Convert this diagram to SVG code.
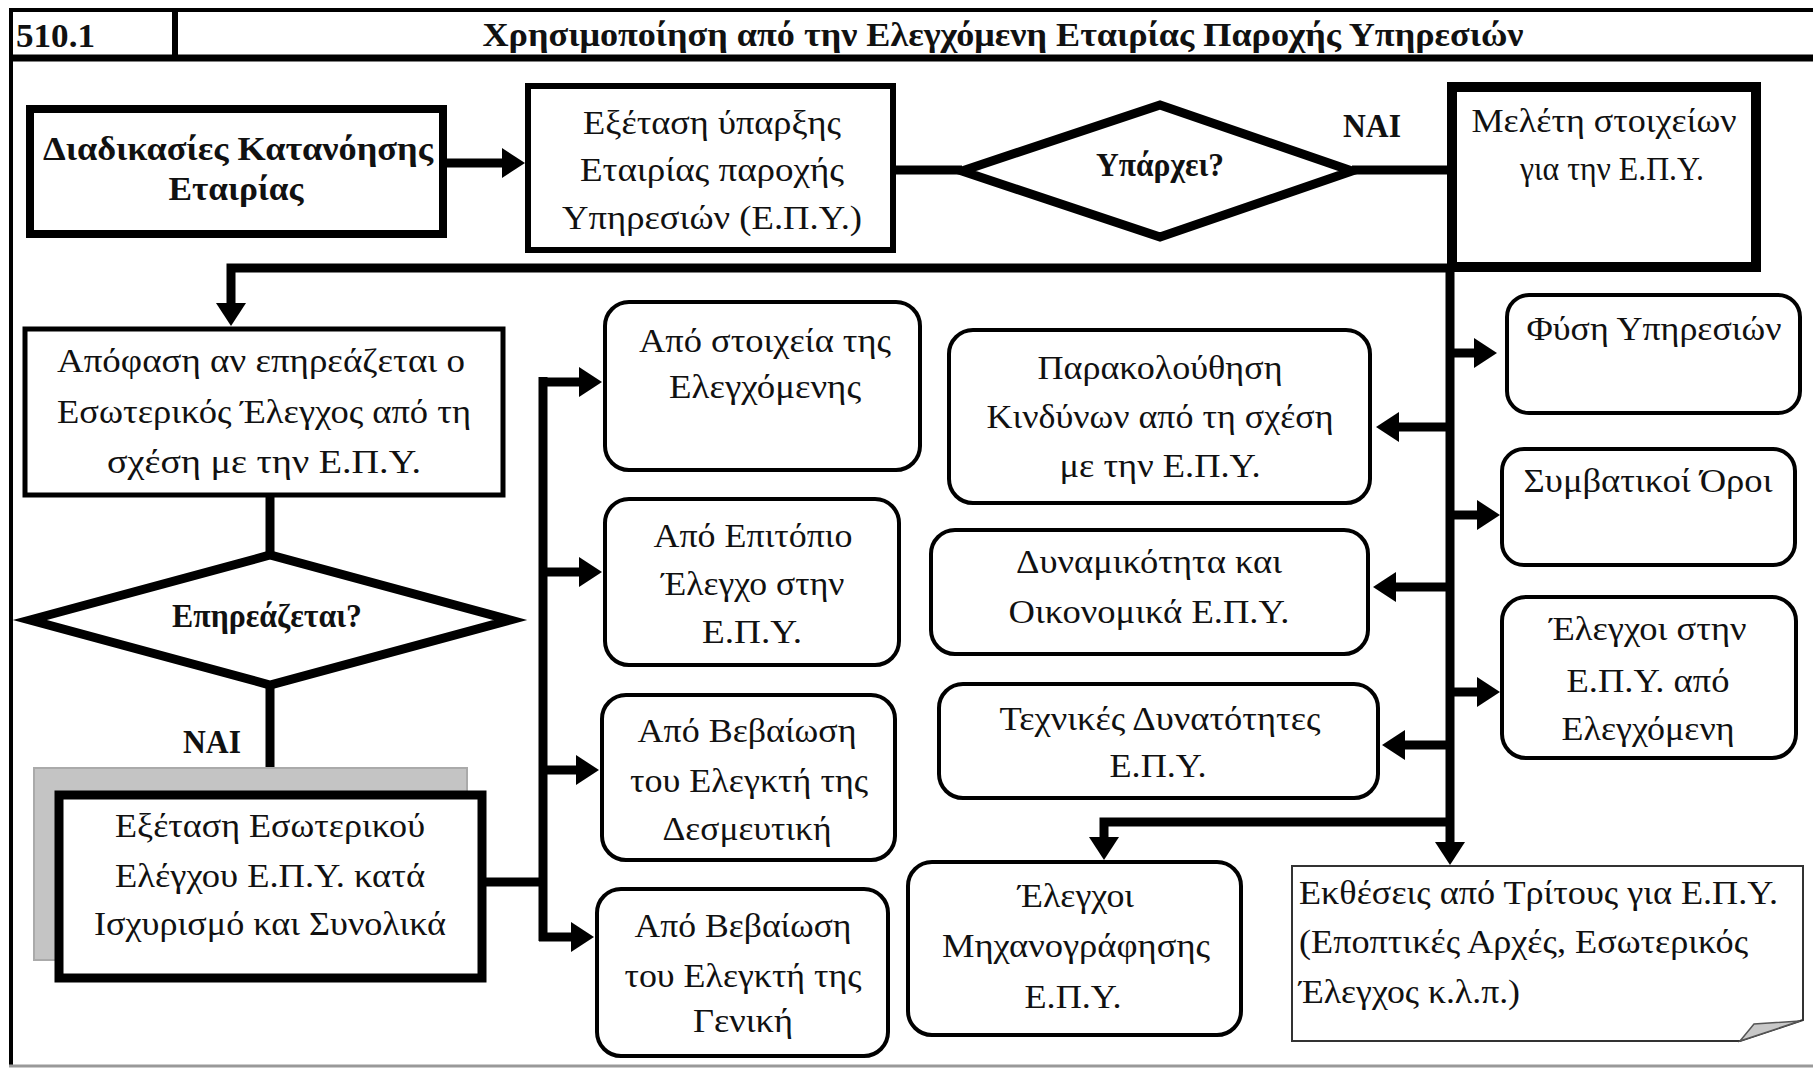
<svg xmlns="http://www.w3.org/2000/svg" width="1813" height="1069" viewBox="0 0 1813 1069">
<defs>
<marker id="ah" markerUnits="userSpaceOnUse" markerWidth="24" markerHeight="32" refX="1" refY="15" orient="auto"><path d="M0,0 L23,15 L0,30 z" fill="#000"/></marker>
</defs>
<style>
.t{font-family:"Liberation Serif","Times New Roman",serif;font-size:33px;fill:#111;text-anchor:middle}
.b{font-weight:bold}
.l{text-anchor:start}
.c{fill:none;stroke:#000;stroke-width:9}
.r{fill:#fff;stroke:#000;stroke-width:4}
.fr{fill:none;stroke:#000}
</style>
<rect x="0" y="0" width="1813" height="1069" fill="#fff"/>
<g id="frame">
<line class="fr" x1="9" y1="10" x2="1813" y2="10" stroke-width="4"/>
<line class="fr" x1="9" y1="58" x2="1813" y2="58" stroke-width="7"/>
<line class="fr" x1="175" y1="10" x2="175" y2="58" stroke-width="6"/>
<line class="fr" x1="11" y1="8" x2="11" y2="1066" stroke-width="4"/>
<line x1="9" y1="1066" x2="1813" y2="1066" stroke="#999" stroke-width="3"/>
<text class="t b l" x="16" y="47" font-size="38" textLength="79" lengthAdjust="spacingAndGlyphs">510.1</text>
<text class="t b" x="1003" y="46" font-size="33" textLength="1041" lengthAdjust="spacingAndGlyphs">Χρησιμοποίηση από την Ελεγχόμενη Εταιρίας Παροχής Υπηρεσιών</text>
</g>
<g id="connectors">
<path class="c" d="M447,163 H503" marker-end="url(#ah)"/>
<path class="c" d="M896,170 H962"/>
<path class="c" d="M1352,170 H1447"/>
<path class="c" d="M1451,268 H231 V304" marker-end="url(#ah)"/>
<path class="c" d="M1450,268 V843" marker-end="url(#ah)"/>
<path class="c" d="M1450,353 H1475" marker-end="url(#ah)"/>
<path class="c" d="M1450,515 H1478" marker-end="url(#ah)"/>
<path class="c" d="M1450,692 H1478" marker-end="url(#ah)"/>
<path class="c" d="M1450,427 H1398" marker-end="url(#ah)"/>
<path class="c" d="M1450,587 H1395" marker-end="url(#ah)"/>
<path class="c" d="M1450,745 H1404" marker-end="url(#ah)"/>
<path class="c" d="M1450,822 H1104 V838" marker-end="url(#ah)"/>
<path class="c" d="M270,497 V556"/>
<path class="c" d="M270,684 V792"/>
<path class="c" d="M486,882 H543"/>
<path class="c" d="M543,377 V941"/>
<path class="c" d="M539,382 H580" marker-end="url(#ah)"/>
<path class="c" d="M539,572 H580" marker-end="url(#ah)"/>
<path class="c" d="M539,770 H577" marker-end="url(#ah)"/>
<path class="c" d="M539,937 H572" marker-end="url(#ah)"/>
<text class="t b" x="1372" y="137" font-size="31" textLength="58" lengthAdjust="spacingAndGlyphs">ΝΑΙ</text>
<text class="t b" x="212" y="753" font-size="31" textLength="58" lengthAdjust="spacingAndGlyphs">ΝΑΙ</text>
</g>
<g id="n-diadikasies">
<rect x="30" y="109" width="413" height="125" fill="#fff" stroke="#000" stroke-width="8"/>
<text class="t b" x="238" y="160" font-size="35" textLength="390" lengthAdjust="spacingAndGlyphs">Διαδικασίες Κατανόησης</text>
<text class="t b" x="236" y="200" font-size="35" textLength="135" lengthAdjust="spacingAndGlyphs">Εταιρίας</text>
</g>
<g id="n-exetasi-yparxis">
<rect x="528" y="86" width="365" height="164" fill="#fff" stroke="#000" stroke-width="6"/>
<text class="t" x="712" y="134" textLength="258" lengthAdjust="spacingAndGlyphs">Εξέταση ύπαρξης</text>
<text class="t" x="712" y="181" textLength="264" lengthAdjust="spacingAndGlyphs">Εταιρίας παροχής</text>
<text class="t" x="712" y="229" textLength="300" lengthAdjust="spacingAndGlyphs">Υπηρεσιών (Ε.Π.Υ.)</text>
</g>
<g id="n-yparxei">
<polygon points="962,171 1160,105 1352,171 1160,237" fill="#fff" stroke="#000" stroke-width="9"/>
<text class="t b" x="1160" y="176" font-size="31" textLength="128" lengthAdjust="spacingAndGlyphs">Υπάρχει?</text>
</g>
<g id="n-meleti">
<rect x="1452" y="87" width="304" height="180" fill="#fff" stroke="#000" stroke-width="10"/>
<text class="t" x="1604" y="132" textLength="265" lengthAdjust="spacingAndGlyphs">Μελέτη στοιχείων</text>
<text class="t" x="1612" y="180" textLength="184" lengthAdjust="spacingAndGlyphs">για την Ε.Π.Υ.</text>
</g>
<g id="n-apofasi">
<rect x="25" y="329" width="478" height="166" fill="#fff" stroke="#000" stroke-width="5"/>
<text class="t" x="261" y="372" textLength="408" lengthAdjust="spacingAndGlyphs">Απόφαση αν επηρεάζεται ο</text>
<text class="t" x="264" y="423" textLength="414" lengthAdjust="spacingAndGlyphs">Εσωτερικός Έλεγχος από τη</text>
<text class="t" x="264" y="473" textLength="314" lengthAdjust="spacingAndGlyphs">σχέση με την Ε.Π.Υ.</text>
</g>
<g id="n-epireazetai">
<polygon points="30,620 270,555 510,620 270,685" fill="#fff" stroke="#000" stroke-width="9"/>
<text class="t b" x="267" y="627" font-size="31" textLength="190" lengthAdjust="spacingAndGlyphs">Επηρεάζεται?</text>
</g>
<g id="n-exetasi-esoterikou">
<rect x="34" y="768" width="433" height="192" fill="#c4c4c4" stroke="#aaa" stroke-width="2"/>
<rect x="59" y="795" width="423" height="183" fill="#fff" stroke="#000" stroke-width="9"/>
<text class="t" x="270" y="837" textLength="310" lengthAdjust="spacingAndGlyphs">Εξέταση Εσωτερικού</text>
<text class="t" x="270" y="887" textLength="310" lengthAdjust="spacingAndGlyphs">Ελέγχου Ε.Π.Υ. κατά</text>
<text class="t" x="270" y="935" textLength="352" lengthAdjust="spacingAndGlyphs">Ισχυρισμό και Συνολικά</text>
</g>
<g id="n-apo-stoixeia">
<rect class="r" x="605" y="302" width="315" height="168" rx="24"/>
<text class="t" x="765" y="352" textLength="252" lengthAdjust="spacingAndGlyphs">Από στοιχεία της</text>
<text class="t" x="765" y="398" textLength="192" lengthAdjust="spacingAndGlyphs">Ελεγχόμενης</text>
</g>
<g id="n-apo-epitopio">
<rect class="r" x="605" y="499" width="294" height="166" rx="24"/>
<text class="t" x="753" y="547" textLength="199" lengthAdjust="spacingAndGlyphs">Από Επιτόπιο</text>
<text class="t" x="753" y="595" textLength="183" lengthAdjust="spacingAndGlyphs">Έλεγχο στην</text>
<text class="t" x="752" y="643" textLength="100" lengthAdjust="spacingAndGlyphs">Ε.Π.Υ.</text>
</g>
<g id="n-desmeftiki">
<rect class="r" x="602" y="695" width="293" height="165" rx="24"/>
<text class="t" x="747" y="742" textLength="219" lengthAdjust="spacingAndGlyphs">Από Βεβαίωση</text>
<text class="t" x="749" y="792" textLength="238" lengthAdjust="spacingAndGlyphs">του Ελεγκτή της</text>
<text class="t" x="747" y="840" textLength="169" lengthAdjust="spacingAndGlyphs">Δεσμευτική</text>
</g>
<g id="n-geniki">
<rect class="r" x="597" y="889" width="291" height="167" rx="24"/>
<text class="t" x="743" y="937" textLength="217" lengthAdjust="spacingAndGlyphs">Από Βεβαίωση</text>
<text class="t" x="743" y="987" textLength="237" lengthAdjust="spacingAndGlyphs">του Ελεγκτή της</text>
<text class="t" x="743" y="1032" textLength="100" lengthAdjust="spacingAndGlyphs">Γενική</text>
</g>
<g id="n-parakolouthisi">
<rect class="r" x="949" y="330" width="421" height="173" rx="24"/>
<text class="t" x="1160" y="379" textLength="245" lengthAdjust="spacingAndGlyphs">Παρακολούθηση</text>
<text class="t" x="1160" y="428" textLength="347" lengthAdjust="spacingAndGlyphs">Κινδύνων από τη σχέση</text>
<text class="t" x="1160" y="477" textLength="201" lengthAdjust="spacingAndGlyphs">με την Ε.Π.Υ.</text>
</g>
<g id="n-dynamikotita">
<rect class="r" x="931" y="530" width="437" height="124" rx="24"/>
<text class="t" x="1149" y="573" textLength="266" lengthAdjust="spacingAndGlyphs">Δυναμικότητα και</text>
<text class="t" x="1149" y="623" textLength="281" lengthAdjust="spacingAndGlyphs">Οικονομικά Ε.Π.Υ.</text>
</g>
<g id="n-technikes">
<rect class="r" x="939" y="684" width="439" height="114" rx="24"/>
<text class="t" x="1160" y="730" textLength="321" lengthAdjust="spacingAndGlyphs">Τεχνικές Δυνατότητες</text>
<text class="t" x="1158" y="777" textLength="97" lengthAdjust="spacingAndGlyphs">Ε.Π.Υ.</text>
</g>
<g id="n-mixanografisi">
<rect class="r" x="908" y="862" width="333" height="173" rx="24"/>
<text class="t" x="1076" y="907" textLength="116" lengthAdjust="spacingAndGlyphs">Έλεγχοι</text>
<text class="t" x="1076" y="957" textLength="268" lengthAdjust="spacingAndGlyphs">Μηχανογράφησης</text>
<text class="t" x="1073" y="1008" textLength="97" lengthAdjust="spacingAndGlyphs">Ε.Π.Υ.</text>
</g>
<g id="n-fysi">
<rect class="r" x="1507" y="295" width="293" height="118" rx="22"/>
<text class="t" x="1654" y="340" textLength="255" lengthAdjust="spacingAndGlyphs">Φύση Υπηρεσιών</text>
</g>
<g id="n-symvatikoi">
<rect class="r" x="1502" y="449" width="293" height="116" rx="22"/>
<text class="t" x="1648" y="492" textLength="249" lengthAdjust="spacingAndGlyphs">Συμβατικοί Όροι</text>
</g>
<g id="n-elegxoi-stin">
<rect class="r" x="1502" y="597" width="294" height="161" rx="24"/>
<text class="t" x="1648" y="640" textLength="197" lengthAdjust="spacingAndGlyphs">Έλεγχοι στην</text>
<text class="t" x="1648" y="692" textLength="163" lengthAdjust="spacingAndGlyphs">Ε.Π.Υ. από</text>
<text class="t" x="1648" y="740" textLength="173" lengthAdjust="spacingAndGlyphs">Ελεγχόμενη</text>
</g>
<g id="n-ektheseis">
<path d="M1292,866 H1803 V1020 L1740,1041 H1292 Z" fill="#fff" stroke="#333" stroke-width="2"/>
<path d="M1740,1041 L1754,1024 L1800,1021 Z" fill="#c8c8c8" stroke="#555" stroke-width="1.5"/>
<text class="t l" x="1299" y="904" textLength="479" lengthAdjust="spacingAndGlyphs">Εκθέσεις από Τρίτους για Ε.Π.Υ.</text>
<text class="t l" x="1299" y="953" textLength="449" lengthAdjust="spacingAndGlyphs">(Εποπτικές Αρχές, Εσωτερικός</text>
<text class="t l" x="1299" y="1003" textLength="221" lengthAdjust="spacingAndGlyphs">Έλεγχος κ.λ.π.)</text>
</g>
</svg>
